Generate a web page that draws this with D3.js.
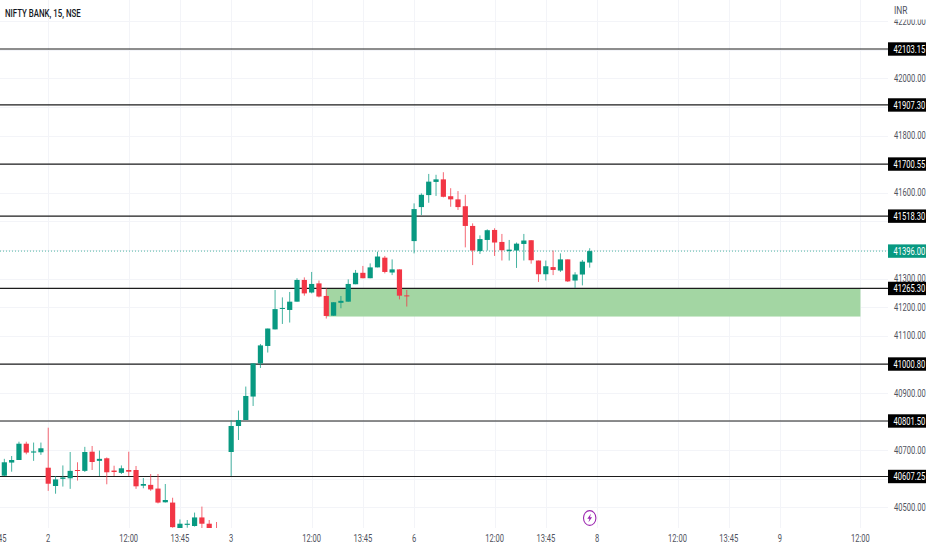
<!DOCTYPE html>
<html>
<head>
<meta charset="utf-8">
<script src="https://cdn.jsdelivr.net/npm/d3@7"></script>
<style>
    html, body { margin: 0; padding: 0; background: #fff; overflow: hidden; }
    text { font-family: Roboto, sans-serif; font-size: 10.5px; }
</style>
</head>
<body>
<svg id="chart"></svg>
<script>
const title = 'NIFTY BANK, 15, NSE';
const currency = 'INR';

const opens = [
    40610, 40656, 40665, 40722, 40691, 40692, 40638, 40574, 40599, 40601,
    40630, 40627, 40694, 40662, 40671, 40628, 40620, 40630, 40630, 40575,
    40578, 40565, 40517, 40516, 40425, 40438, 40434, 40464, 40442, 40420,
    40405, 40693, 40784, 40805, 40887, 41003, 41064, 41122, 41195, 41190,
    41219, 41295, 41251, 41283, 41239, 41170, 41215, 41219, 41280, 41320,
    41301, 41339, 41373, 41321, 41332, 41241, 41431, 41550, 41592, 41638,
    41647, 41588, 41577, 41553, 41484, 41396, 41435, 41470, 41428, 41396,
    41398, 41421, 41434, 41363, 41315, 41340, 41328, 41367, 41293, 41314,
    41356
];
const highs = [
    40669, 40679, 40729, 40729, 40726, 40726, 40778, 40609, 40646, 40693,
    40657, 40711, 40714, 40698, 40674, 40645, 40646, 40694, 40644, 40602,
    40616, 40616, 40581, 40533, 40457, 40455, 40481, 40502, 40455, 40448,
    40415, 40803, 40838, 40922, 41003, 41071, 41125, 41260, 41234, 41253,
    41301, 41304, 41323, 41293, 41266, 41217, 41239, 41297, 41330, 41344,
    41353, 41394, 41379, 41367, 41332, 41260, 41563, 41598, 41666, 41663,
    41672, 41616, 41606, 41593, 41493, 41451, 41472, 41476, 41456, 41435,
    41426, 41456, 41434, 41363, 41363, 41398, 41388, 41367, 41322, 41365,
    41406
];
const lows = [
    40609, 40624, 40665, 40685, 40662, 40683, 40557, 40547, 40572, 40564,
    40593, 40623, 40630, 40609, 40580, 40609, 40616, 40609, 40564, 40566,
    40557, 40513, 40516, 40428, 40415, 40428, 40432, 40427, 40418, 40395,
    40390, 40609, 40735, 40805, 40854, 40987, 41041, 41122, 41141, 41146,
    41219, 41240, 41248, 41234, 41160, 41170, 41196, 41219, 41280, 41301,
    41301, 41339, 41318, 41312, 41227, 41202, 41388, 41522, 41565, 41589,
    41584, 41551, 41540, 41409, 41347, 41386, 41398, 41379, 41363, 41363,
    41337, 41363, 41352, 41288, 41293, 41312, 41323, 41288, 41267, 41276,
    41338
];
const closes = [
    40657, 40665, 40722, 40691, 40695, 40706, 40582, 40597, 40604, 40627,
    40627, 40693, 40658, 40669, 40622, 40623, 40636, 40624, 40573, 40581,
    40562, 40516, 40525, 40430, 40442, 40442, 40464, 40442, 40425, 40405,
    40400, 40784, 40805, 40889, 41003, 41066, 41125, 41193, 41197, 41219,
    41295, 41248, 41281, 41237, 41169, 41217, 41222, 41281, 41320, 41301,
    41339, 41377, 41323, 41332, 41240, 41239, 41543, 41593, 41639, 41647,
    41586, 41577, 41550, 41484, 41398, 41438, 41469, 41426, 41399, 41401,
    41422, 41433, 41364, 41315, 41343, 41330, 41367, 41290, 41314, 41359,
    41396
];

// bar index of each time axis label
const timeTicks = [-1, 6, 17, 24, 31, 42, 49, 56, 67, 74, 81, 92, 99, 106, 117];
const timeLabels = ['13:45', '2', '12:00', '13:45', '3', '12:00', '13:45', '6', '12:00', '13:45', '8', '12:00', '13:45', '9', '12:00'];

const priceTicks = [42200, 42000, 41800, 41600, 41300, 41200, 41100, 40900, 40700, 40500];
const gridTicks = [42200, 42100, 42000, 41900, 41800, 41700, 41600, 41500, 41400, 41300, 41200, 41100, 41000, 40900, 40800, 40700, 40600, 40500];
const levels = [42103.15, 41907.30, 41700.55, 41518.30, 41265.30, 41000.80, 40801.50, 40607.25];
const lastPrice = 41396.00;
const zoneTop = 41265.30;
const zoneBottom = 41167;
const zoneFrom = 44;
const zoneTo = 117;
const boltBar = 80;

const width = 932;
const height = 550;
const paneRight = 888;
const paneBottom = 528;
const squeeze = 0.72;

const green = '#089981';
const red = '#f23645';

const svg = d3.select('svg#chart')
    .attr('width', width)
    .attr('height', height)
    .style('display', 'block');

const x = d3.scaleLinear().domain([0, 80]).range([4.33, 589.7]);
const y = d3.scaleLinear().domain([42103.15, 40607.25]).range([49, 476.5]);

svg.append('defs').append('clipPath')
    .attr('id', 'pane')
    .append('rect')
    .attr('width', paneRight)
    .attr('height', paneBottom);

const bars = d3.range(opens.length);
const pane = svg.append('g').attr('clip-path', 'url(#pane)');

// grid
pane.append('g')
    .selectAll('line')
    .data(gridTicks)
    .join('line')
    .attr('x1', 0)
    .attr('x2', paneRight)
    .attr('y1', d => Math.round(y(d)) + 0.5)
    .attr('y2', d => Math.round(y(d)) + 0.5)
    .attr('stroke', '#f3f4f8');

pane.append('g')
    .selectAll('line')
    .data(timeTicks)
    .join('line')
    .attr('x1', d => Math.round(x(d)) + 0.5)
    .attr('x2', d => Math.round(x(d)) + 0.5)
    .attr('y1', 0)
    .attr('y2', paneBottom)
    .attr('stroke', '#f3f4f8');

// demand zone
pane.append('rect')
    .attr('x', x(zoneFrom))
    .attr('y', y(zoneTop))
    .attr('width', x(zoneTo) - x(zoneFrom))
    .attr('height', y(zoneBottom) - y(zoneTop))
    .attr('fill', '#a3d6a3');

// last price
pane.append('line')
    .attr('x1', 0)
    .attr('x2', paneRight)
    .attr('y1', y(lastPrice))
    .attr('y2', y(lastPrice))
    .attr('stroke', green)
    .attr('stroke-opacity', 0.7)
    .attr('stroke-dasharray', '1,2');

// levels
pane.append('g')
    .selectAll('line')
    .data(levels)
    .join('line')
    .attr('x1', 0)
    .attr('x2', paneRight)
    .attr('y1', d => y(d))
    .attr('y2', d => y(d))
    .attr('stroke', '#1c1c1c')
    .attr('stroke-width', 1.2);

// candles
const color = i => closes[i] >= opens[i] ? green : red;

pane.append('g')
    .selectAll('line')
    .data(bars)
    .join('line')
    .attr('x1', i => x(i))
    .attr('x2', i => x(i))
    .attr('y1', i => y(highs[i]))
    .attr('y2', i => y(lows[i]))
    .attr('stroke', color)
    .attr('stroke-opacity', 0.75);

pane.append('g')
    .selectAll('rect')
    .data(bars)
    .join('rect')
    .attr('x', i => x(i) - 2.6)
    .attr('width', 5.2)
    .attr('y', i => y(Math.max(opens[i], closes[i])))
    .attr('height', i => Math.max(1, Math.abs(y(opens[i]) - y(closes[i]))))
    .attr('fill', color);

const at = (px, py, s = squeeze) => `translate(${px},${py}) scale(${s},1)`;

// price axis
svg.append('g')
    .selectAll('text')
    .data(priceTicks)
    .join('text')
    .attr('transform', d => at(894, y(d)))
    .attr('dy', '0.35em')
    .attr('fill', '#50535e')
    .text(d => d3.format('.2f')(d));

// 42200 sits half under the currency label
svg.append('rect')
    .attr('x', paneRight)
    .attr('y', 0)
    .attr('width', width - paneRight)
    .attr('height', 19.5)
    .attr('fill', '#fff');

svg.append('text')
    .attr('transform', at(894, 14, 0.8))
    .attr('fill', '#50535e')
    .text(currency);

// price labels
const tags = svg.append('g')
    .selectAll('g')
    .data(levels.concat([lastPrice]))
    .join('g')
    .attr('transform', d => `translate(${paneRight},${y(d)})`);

tags.append('rect')
    .attr('y', -6.7)
    .attr('width', 38)
    .attr('height', 13.4)
    .attr('fill', d => d === lastPrice ? green : '#000');

tags.append('text')
    .attr('transform', at(5.5, 0))
    .attr('dy', '0.35em')
    .attr('fill', '#fff')
    .text(d => d3.format('.2f')(d));

// time axis
svg.append('g')
    .selectAll('text')
    .data(timeTicks)
    .join('text')
    .attr('transform', d => at(x(d), 538))
    .attr('dy', '0.35em')
    .attr('text-anchor', 'middle')
    .attr('fill', '#50535e')
    .text((d, i) => timeLabels[i]);

svg.append('text')
    .attr('transform', at(5, 17, 0.75))
    .attr('font-weight', 500)
    .attr('fill', '#131722')
    .text(title);

// lightning marker
const bolt = svg.append('g')
    .attr('transform', `translate(${x(boltBar)},518)`);

bolt.append('ellipse')
    .attr('rx', 6.2)
    .attr('ry', 7.4)
    .attr('fill', '#fff')
    .attr('stroke', '#9c27b0')
    .attr('stroke-width', 1.1);

bolt.append('path')
    .attr('d', 'M1.2,-4.2 L-2.4,0.7 L-0.3,0.7 L-1.2,4.2 L2.4,-0.7 L0.3,-0.7 Z')
    .attr('fill', '#9c27b0');
</script>
</body>
</html>
